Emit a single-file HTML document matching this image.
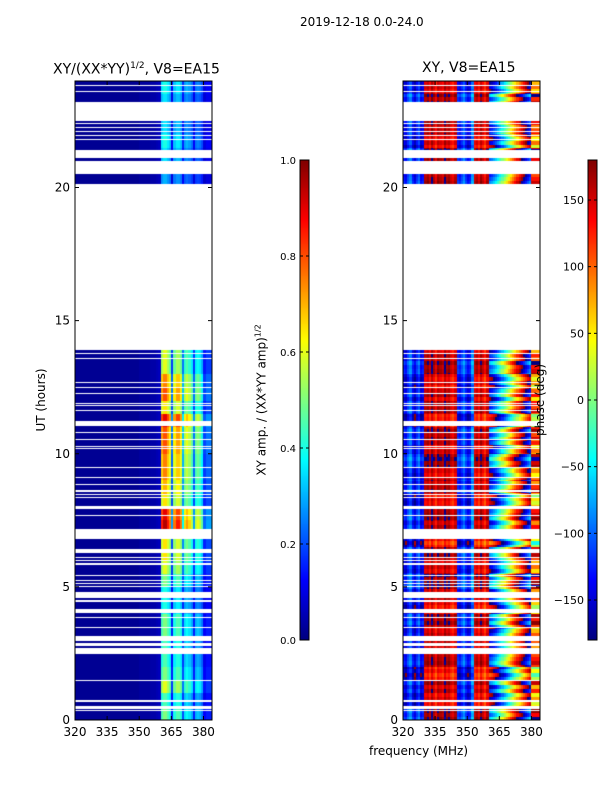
<!DOCTYPE html>
<html><head><meta charset="utf-8">
<style>
body{margin:0;background:#fff;}
#root{position:relative;width:600px;height:800px;background:#fff;font-family:"DejaVu Sans","Liberation Sans",sans-serif;color:#000;overflow:hidden;}
.t{position:absolute;white-space:nowrap;font-size:12px;line-height:12px;}
canvas{position:absolute;}
svg{position:absolute;left:0;top:0;}
</style></head>
<body>
<div id="root">
<div class="t" style="left:300px;top:16px;font-size:12px;">2019-12-18 0.0-24.0</div>
<div class="t" style="left:53px;top:59px;font-size:14px;line-height:14px;">XY/(XX*YY)<sup style="font-size:9px;">1/2</sup>, V8=EA15</div>
<div class="t" style="left:422px;top:61px;font-size:14px;line-height:14px;">XY, V8=EA15</div>
<canvas id="amp" width="137" height="639" style="left:75px;top:81px;"></canvas>
<canvas id="pha" width="137" height="639" style="left:403px;top:81px;"></canvas>
<canvas id="cb1" width="9" height="480" style="left:300px;top:160px;"></canvas>
<canvas id="cb2" width="9" height="480" style="left:588px;top:160px;"></canvas>
<svg id="ov" width="600" height="800"></svg>
<div class="t" style="top:400px;transform:translate(-50%,-50%) rotate(-90deg);left:41px;">UT (hours)</div>
<div class="t" style="left:260px;top:400px;transform:translate(-50%,-50%) rotate(-90deg);">XY amp. / (XX*YY amp)<sup style="font-size:8px;">1/2</sup></div>
<div class="t" style="left:540px;top:400px;transform:translate(-50%,-50%) rotate(-90deg);">phase (deg)</div>
<div class="t" style="left:369px;top:745px;">frequency (MHz)</div>
</div>
<script>
// ---- data ----
const freqStart = 320, freqEnd = 384;
const ampProfile = [0.02,0.02,0.02,0.02,0.02,0.02,0.02,0.02,0.02,0.02,0.02,0.02,0.02,0.02,0.02,0.02,0.02,0.02,0.02,0.02,
 0.02,0.02,0.02,0.02,0.02,0.02,0.02,0.02,0.02,0.02,0.03,0.03,0.03,0.03,0.03,0.04,0.04,0.04,0.05,0.06,
 0.45,0.5,0.5,0.45,0.4,0.15,0.4,0.45,0.45,0.4,0.2,0.35,0.38,0.35,0.3,0.15,0.3,0.32,0.3,0.25,0.12,0.15,0.15,0.15];
const rowLevel = [1.0,0.9,1.2,1.0,0.9,0.9,1.0,1.0,0.8,0.8,1.0,1.2,1.3,1.3,1.9,1.8,1.3,1.4,1.5,1.5,1.6,1.6,1.8,1.3,1.6,1.5,1.2,1.2,
 0,0,0,0,0,0,0,0,0,0,0,0,0.6,0.6,0.7,0.8,0.7,0.7,0.7,0.8];
const phaseProfile = [-140,-150,-120,-100,-140,-160,-130,-110,-150,-140,150,160,140,170,150,130,160,150,140,170,
 150,160,140,130,150,-130,-140,-120,-100,-130,-150,-140,-90,140,150,130,160,140,120,150,
 -150,-140,-125,-110,-90,-70,-50,-30,-10,10,30,50,70,90,110,130,150,170,-170,-150,90,90,90,90];
const rowPhase = [60,-40,20,-80,40,0,-30,50,-60,30,70,-20,40,-90,10,60,-50,20,-30,80,-10,50,-70,30,0,-40,60,20,
 0,0,0,0,0,0,0,0,0,0,0,0,40,-60,90,-30,20,-80,60,-20];
const rowJitter = [0,25,-15,35,-30,10,45,-40,15,-10,30,-20];
const gaps = [[0.33,0.37],[0.41,0.53],[0.69,0.74],[1.47,1.52],[2.47,2.72],[2.78,2.9],[2.97,3.16],[3.45,3.49],[3.83,3.87],[4.03,4.16],[4.45,4.49],[4.6,4.79],[4.98,5.02],[5.1,5.13],[5.22,5.25],[5.32,5.35],[5.42,5.45],[5.84,5.88],[5.96,6.0],[6.08,6.12],[6.29,6.43],[6.78,6.82],[6.85,7.18],[7.65,7.69],[7.93,8.05],[8.34,8.38],[8.46,8.5],[8.58,8.62],[8.84,8.88],[9.09,9.13],[9.47,9.51],[10.16,10.2],[10.24,10.28],[10.5,10.54],[10.78,10.82],[11.05,11.24],[11.6,11.64],[11.78,11.82],[11.87,11.91],[12.23,12.27],[12.47,12.51],[12.65,12.69],[13.54,13.58],[13.76,13.8],[13.9,20.15],[20.5,21.0],[21.1,21.4],[21.78,21.83],[21.93,21.98],[22.08,22.13],[22.23,22.28],[22.38,22.43],[22.5,23.2],[23.6,23.64],[23.82,23.86]];
const yTicks = [0,5,10,15,20];
const xTicks = [320,335,350,365,380];
const ampCbTicks = [0.0,0.2,0.4,0.6,0.8,1.0];
const phaseCbTicks = [-150,-100,-50,0,50,100,150];

// ---- scales ----
const W=137,H=639,T0=0,T1=24;
function tOfRow(py){return T1-(py+0.5)/H*(T1-T0);}
function fOfCol(px){return freqStart+(px+0.5)/W*(freqEnd-freqStart);}
function yScale(t){return 81+(T1-t)/(T1-T0)*H;}
function xScale(f,x0){return x0+(f-freqStart)/(freqEnd-freqStart)*W;}
function jet(v){v=Math.max(0,Math.min(1,v));
 const r=Math.min(1,Math.max(0,1.5-Math.abs(4*v-3))),g=Math.min(1,Math.max(0,1.5-Math.abs(4*v-2))),b=Math.min(1,Math.max(0,1.5-Math.abs(4*v-1)));
 return [r*255|0,g*255|0,b*255|0];}
function isGap(t){for(const g of gaps){if(t>=g[0]&&t<g[1])return true;}return false;}

function drawHeat(id,fn){const c=document.getElementById(id),ctx=c.getContext('2d');const im=ctx.createImageData(W,H);
 for(let py=0;py<H;py++){const t=tOfRow(py);const gap=isGap(t);
  for(let px=0;px<W;px++){const i=(py*W+px)*4;
   if(gap){im.data[i]=im.data[i+1]=im.data[i+2]=255;im.data[i+3]=255;continue;}
   const col=jet(fn(t,fOfCol(px),py));im.data[i]=col[0];im.data[i+1]=col[1];im.data[i+2]=col[2];im.data[i+3]=255;}}
 ctx.putImageData(im,0,0);}
drawHeat('amp',(t,f)=>{const fi=Math.min(ampProfile.length-1,Math.floor(f-freqStart));const hi=Math.min(rowLevel.length-1,Math.floor(t*2));
 const base=ampProfile[fi];return base<0.11?base:base*rowLevel[hi];});
drawHeat('pha',(t,f,py)=>{const fi=Math.min(phaseProfile.length-1,Math.floor(f-freqStart));const hi=Math.min(rowPhase.length-1,Math.floor(t*2));
 const k=f>=360?1:0.3;let p=phaseProfile[fi]+rowPhase[hi]*k+rowJitter[Math.floor(py/4)%rowJitter.length]*k;
 p=((p+180)%360+360)%360-180;return (p+180)/360;});
function drawCb(id){const c=document.getElementById(id),ctx=c.getContext('2d');for(let y=0;y<480;y++){const col=jet(1-(y+0.5)/480);ctx.fillStyle='rgb('+col+')';ctx.fillRect(0,y,9,1);}}
drawCb('cb1');drawCb('cb2');

// ---- axes ----
const ov=document.getElementById('ov');const NS='http://www.w3.org/2000/svg';
function mk(tag,attrs){const e=document.createElementNS(NS,tag);for(const k in attrs)e.setAttribute(k,attrs[k]);ov.appendChild(e);return e;}
function txt(x,y,s,anchor,name,fs){const e=mk('text',{x:x,y:y,'text-anchor':anchor,'font-size':fs||12,'font-family':'DejaVu Sans, Liberation Sans, sans-serif'});e.textContent=s;
 
 return e;}
[75,403].forEach((x0,ai)=>{
 const fr=mk('rect',{x:x0,y:81,width:W,height:H,fill:'none',stroke:'#000','stroke-width':1});
 
 
 yTicks.forEach(v=>{const y=yScale(v);
  mk('line',{x1:x0,x2:x0+4,y1:y,y2:y,stroke:'#000'});mk('line',{x1:x0+W-4,x2:x0+W,y1:y,y2:y,stroke:'#000'});
  txt(x0-5,y+4,String(v),'end','y-tick-label');});
 xTicks.forEach(v=>{const x=xScale(v,x0);
  mk('line',{x1:x,x2:x,y1:81,y2:85,stroke:'#000'});mk('line',{x1:x,x2:x,y1:81+H-4,y2:81+H,stroke:'#000'});
  txt(x,736,String(v),'middle','x-tick-label');});
});
[[300,ampCbTicks,0,1],[588,phaseCbTicks,-180,180]].forEach(([x0,ticks,lo,hi],ci)=>{
 const fr=mk('rect',{x:x0,y:160,width:9,height:480,fill:'none',stroke:'#000'});
 
 
 ticks.forEach(v=>{const y=160+(hi-v)/(hi-lo)*480;
  mk('line',{x1:x0,x2:x0+3,y1:y,y2:y,stroke:'#000'});mk('line',{x1:x0+6,x2:x0+9,y1:y,y2:y,stroke:'#000'});
  txt(x0-4,y+4,ci?(v<0?'\u2212'+(-v):String(v)):v.toFixed(1),'end','colorbar-tick-label',ci?11:10);});
});
</script>
</body></html>
